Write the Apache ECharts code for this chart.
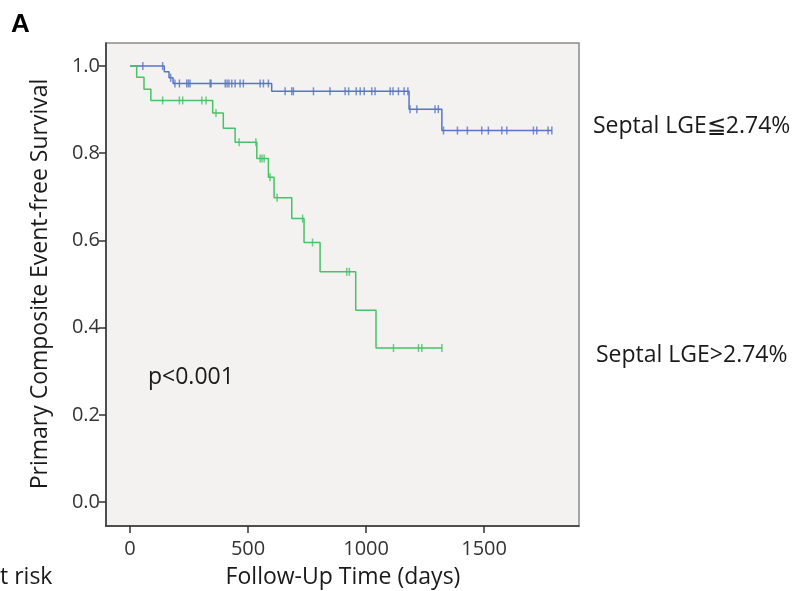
<!DOCTYPE html>
<html>
<head>
<meta charset="utf-8">
<script src="https://cdn.jsdelivr.net/npm/echarts@6/dist/echarts.min.js"></script>
<style>html,body{margin:0;padding:0;background:#fff}#c{width:794px;height:591px}</style>
</head>
<body>
<div id="c"></div>
<script>
// ---- Data ----
var xTicks = [0, 500, 1000, 1500];
var yTicks = [0, 0.2, 0.4, 0.6, 0.8, 1.0];

// Septal LGE <= 2.74% (blue): event times and survival after each step
var lowTimes  = [0, 145, 165, 182, 200, 600, 1182, 1321];
var lowSurv   = [1.0, 0.987, 0.973, 0.960, 0.960, 0.942, 0.901, 0.852];
var lowEnd    = 1787;
var lowCensor = [54, 138, 172, 190, 209, 240, 247, 254, 339, 343, 403, 411, 419, 431, 445, 466, 480, 551, 565, 586,
                 657, 685, 692, 777, 847, 911, 926, 958, 975, 992, 1024, 1038, 1102, 1114, 1137, 1161, 1177,
                 1186, 1215, 1292, 1306, 1328, 1387, 1429, 1490, 1518, 1575, 1596, 1709, 1723, 1771, 1787];

// Septal LGE > 2.74% (green)
var highTimes  = [0, 28, 59, 88, 350, 395, 445, 537, 586, 610, 685, 737, 805, 956, 1042];
var highSurv   = [1.0, 0.974, 0.947, 0.921, 0.892, 0.857, 0.825, 0.788, 0.745, 0.698, 0.650, 0.595, 0.528, 0.440, 0.353];
var highEnd    = 1321;
var highCensor = [138, 209, 223, 304, 322, 364, 462, 533, 551, 559, 568, 593, 623, 731, 773, 918, 929, 1116, 1222, 1236, 1321];

var blue = '#5874c6';
var green = '#47c266';

function curve(times, surv, end) {
  var d = times.map(function (t, i) { return [t, surv[i]]; });
  d.push([end, surv[surv.length - 1]]);
  return d;
}
function survAt(times, surv, t) {
  var s = surv[0];
  for (var i = 0; i < times.length; i++) { if (times[i] <= t) s = surv[i]; }
  return s;
}
function marks(cens, times, surv) {
  return cens.map(function (t) { return [t, survAt(times, surv, t)]; });
}

var chart = echarts.init(document.getElementById('c'));
var txt = '#1a1a1a';
var font = '"Open Sans", "Noto Sans", sans-serif';
chart.setOption({
  animation: false,
  grid: { left: 106, right: 215, top: 43, bottom: 65, show: true, backgroundColor: '#f3f2f1', borderColor: '#8a8a8a', borderWidth: 1.5 },
  xAxis: {
    type: 'value', min: -102, max: 1902,
    axisLine: { show: true, onZero: false, lineStyle: { color: '#333', width: 1.5 } },
    axisTick: { show: true, length: 7, customValues: xTicks, lineStyle: { color: '#333', width: 1.5 } },
    axisLabel: { customValues: xTicks, color: '#333', fontSize: 20, fontFamily: font, margin: 13,
      formatter: function (v) { return String(v); } },
    splitLine: { show: false }
  },
  yAxis: {
    type: 'value', min: -0.055, max: 1.0528,
    axisLine: { show: true, onZero: false, lineStyle: { color: '#333', width: 1.5 } },
    axisTick: { show: true, length: 7, customValues: yTicks, lineStyle: { color: '#333', width: 1.5 } },
    axisLabel: { customValues: yTicks, color: '#333', fontSize: 20, fontFamily: font, margin: 6,
      formatter: function (v) { return v.toFixed(1); } },
    splitLine: { show: false }
  },
  series: [
    { type: 'line', step: 'end', data: curve(lowTimes, lowSurv, lowEnd), showSymbol: false, symbol: 'none',
      lineStyle: { color: blue, width: 1.5 } },
    { type: 'line', step: 'end', data: curve(highTimes, highSurv, highEnd), showSymbol: false, symbol: 'none',
      lineStyle: { color: green, width: 1.5 } },
    { type: 'scatter', data: marks(lowCensor, lowTimes, lowSurv), symbol: 'rect', symbolSize: [1.5, 8],
      itemStyle: { color: blue } },
    { type: 'scatter', data: marks(highCensor, highTimes, highSurv), symbol: 'rect', symbolSize: [1.5, 8],
      itemStyle: { color: green } }
  ],
  graphic: [
    { type: 'text', left: 11, top: 12, style: { text: 'A', font: 'bold 26px "Liberation Sans", Arial, sans-serif', fill: '#000' } },
    { type: 'text', x: 40, y: 284, rotation: Math.PI / 2,
      style: { text: 'Primary Composite Event-free Survival', font: '23px ' + font, fill: txt, align: 'center', verticalAlign: 'middle' } },
    { type: 'text', x: 343, y: 577, style: { text: 'Follow-Up Time (days)', font: '23px ' + font, fill: txt, align: 'center', verticalAlign: 'middle' } },
    { type: 'text', x: 0, y: 577, style: { text: 't risk', font: '23px ' + font, fill: txt, align: 'left', verticalAlign: 'middle' } },
    { type: 'text', x: 148, y: 377, style: { text: 'p<0.001', font: '23px ' + font, fill: txt, align: 'left', verticalAlign: 'middle' } },
    { type: 'text', x: 593, y: 126, style: { text: 'Septal LGE≦2.74%', font: '23px ' + font, fill: txt, align: 'left', verticalAlign: 'middle' } },
    { type: 'text', x: 596, y: 355, style: { text: 'Septal LGE>2.74%', font: '23px ' + font, fill: txt, align: 'left', verticalAlign: 'middle' } }
  ]
});
</script>
</body>
</html>
